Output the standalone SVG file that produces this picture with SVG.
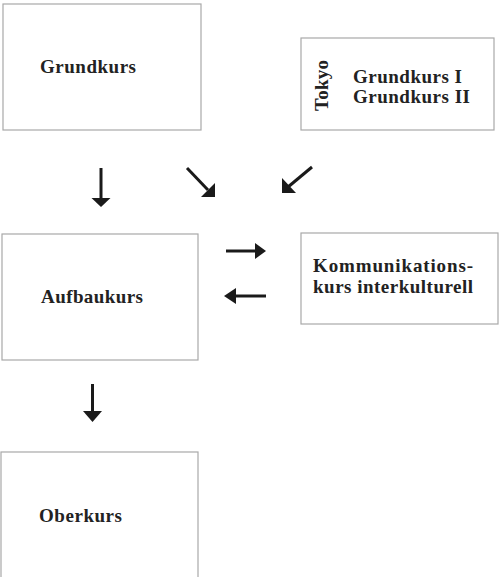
<svg xmlns="http://www.w3.org/2000/svg" width="499" height="577" viewBox="0 0 499 577">
<style>
.box{fill:#fff;stroke:#a8a8a8;stroke-width:1.2}
.t{font-family:"Liberation Serif",serif;font-weight:bold;font-size:19px;fill:#222}
.ln{stroke:#1a1a1a;stroke-width:3;fill:none}
.hd{fill:#1a1a1a}
</style>
<rect width="499" height="577" fill="#fff"/>
<g id="grundkurs"><rect class="box" x="3" y="4" width="198" height="126"/><text class="t" x="40" y="73" textLength="96">Grundkurs</text></g>
<g id="tokyo"><rect class="box" x="301" y="38" width="193" height="92"/>
<text class="t" transform="translate(328,111) rotate(-90)" textLength="51">Tokyo</text>
<text class="t" x="353" y="83" textLength="109">Grundkurs I</text>
<text class="t" x="353" y="103" textLength="117">Grundkurs II</text></g>
<g id="aufbaukurs"><rect class="box" x="2" y="234" width="196" height="126"/><text class="t" x="41" y="303" textLength="102">Aufbaukurs</text></g>
<g id="kommunikation"><rect class="box" x="301" y="233" width="197" height="91"/>
<text class="t" x="313" y="272" textLength="160">Kommunikations-</text>
<text class="t" x="313" y="293" textLength="160">kurs interkulturell</text></g>
<g id="oberkurs"><rect class="box" x="1" y="452" width="197" height="140"/><text class="t" x="39" y="522" textLength="83">Oberkurs</text></g>
<g id="connectors">
<line class="ln" x1="101" y1="168" x2="101" y2="199"/><polygon class="hd" points="91.5,198 110.5,198 101,207"/>
<line class="ln" x1="187" y1="168" x2="208" y2="190"/><polygon class="hd" points="215,197 201,197 215,183"/>
<line class="ln" x1="312" y1="167" x2="288" y2="187"/><polygon class="hd" points="282,193 282,178 296,193"/>
<line class="ln" x1="226" y1="251" x2="256" y2="251"/><polygon class="hd" points="255,243 266,251 255,259"/>
<line class="ln" x1="235" y1="296" x2="266" y2="296"/><polygon class="hd" points="224,296 236,288 236,304"/>
<line class="ln" x1="92.5" y1="384" x2="92.5" y2="412"/><polygon class="hd" points="83,411 102,411 92.5,422"/>
</g>
</svg>
